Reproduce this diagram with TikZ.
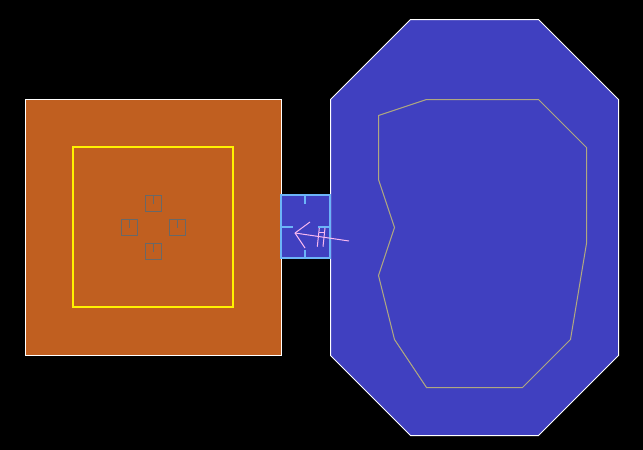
\documentclass[tikz,border=0pt]{standalone}
\definecolor{orangefill}{HTML}{C05F20}
\definecolor{bluefill}{HTML}{4040C0}
\definecolor{roomblue}{HTML}{6CB4F8}
\definecolor{pinkline}{HTML}{F8B8F0}
\definecolor{innerline}{HTML}{B0A880}
\definecolor{greyline}{HTML}{686868}
\tikzset{
  halllot/.style={fill=orangefill,draw=white,line width=1pt},
  bigroom/.style={fill=bluefill,draw=white,line width=1pt},
  yellowline/.style={draw=yellow,line width=2pt},
  contour/.style={draw=innerline,line width=1pt},
  smallbox/.style={draw=greyline,line width=1pt},
  roomline/.style={draw=roomblue,line width=2pt},
  pinkstroke/.style={draw=pinkline,line width=1pt}
}
\begin{document}
\begin{tikzpicture}[x=1pt,y=-1pt]
\fill[black] (0,0) rectangle (643,450);
\useasboundingbox (0,0) rectangle (643,450);
\draw[halllot] (25.5,99.5) rectangle (281.5,355.5);
\draw[yellowline] (73,147) rectangle (233,307);
\foreach \cx/\cy in {153.5/203.5,129.5/227.5,177.5/227.5,153.5/251.5}{
  \draw[smallbox] (\cx-8,\cy-8) rectangle (\cx+8,\cy+8);
  \draw[smallbox] (\cx,\cy-8) -- (\cx,\cy);
}
\draw[bigroom] (410.5,19.5) -- (538.5,19.5) -- (618.5,99.5) -- (618.5,355.5) -- (538.5,435.5) -- (410.5,435.5) -- (330.5,355.5) -- (330.5,99.5) -- cycle;
\draw[contour] (378.5,115.5) -- (426.5,99.5) -- (538.5,99.5) -- (586.5,147.5) -- (586.5,243.5) -- (570.5,339.5) -- (522.5,387.5) -- (426.5,387.5) -- (394.5,339.5) -- (378.5,275.5) -- (394.5,227.5) -- (378.5,179.5) -- cycle;
\fill[bluefill] (281,195) rectangle (330,258.3);
\draw[roomline] (281,195) rectangle (330,258.3);
\draw[roomline] (305,195) -- (305,204);
\draw[roomline] (305,250) -- (305,258.3);
\draw[roomline] (281,227) -- (293,227);
\draw[roomline] (318,227) -- (330,227);
\draw[pinkstroke] (295,233) -- (349,241);
\draw[pinkstroke] (295,233) -- (310,222);
\draw[pinkstroke] (295,233) -- (305,248);
\draw[pinkstroke] (319.3,228) -- (317.3,246.7);
\draw[pinkstroke] (325,228) -- (323,246.7);
\draw[pinkstroke] (318.8,232.7) -- (324.6,232.7);
\end{tikzpicture}
\end{document}
